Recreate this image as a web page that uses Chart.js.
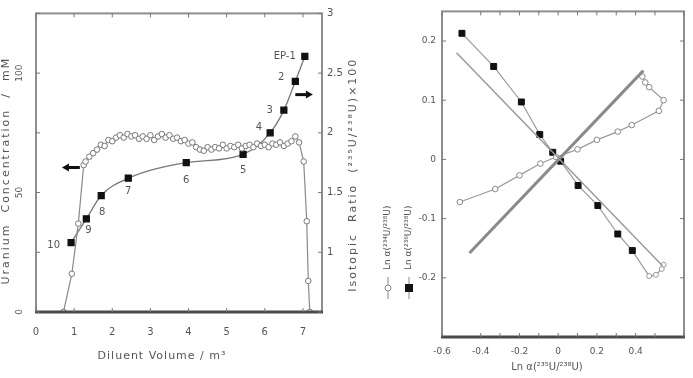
<!DOCTYPE html>
<html>
<head>
<meta charset="utf-8">
<script src="https://cdn.jsdelivr.net/npm/chart.js@4.4.1/dist/chart.umd.min.js"></script>
<style>
  body { margin: 0; background: #fff; }
  #wrap { position: relative; width: 693px; height: 378px; overflow: hidden; }
  #leftBox { position: absolute; left: 0; top: 0; width: 362px; height: 378px; }
  #rightBox { position: absolute; left: 362px; top: 0; width: 331px; height: 378px; }
</style>
</head>
<body>
<div id="wrap">
  <div id="leftBox"><canvas id="elutionChart" width="362" height="378"></canvas></div>
  <div id="rightBox"><canvas id="lnChart" width="331" height="378"></canvas></div>
</div>
<script>
// ---- left panel: uranium concentration and isotopic ratio vs diluent volume ----
const concVolume = [0.72, 0.94, 1.11, 1.25, 1.3, 1.4, 1.5, 1.6, 1.7, 1.8, 1.9, 2.0, 2.1, 2.2,
  2.3, 2.4, 2.5, 2.6, 2.7, 2.8, 2.9, 3.0, 3.1, 3.2, 3.3, 3.4, 3.5, 3.6, 3.7, 3.8, 3.9, 4.0,
  4.1, 4.2, 4.3, 4.4, 4.5, 4.6, 4.7, 4.8, 4.9, 5.0, 5.1, 5.2, 5.3, 5.4, 5.5, 5.6, 5.7, 5.8,
  5.9, 6.0, 6.1, 6.2, 6.3, 6.4, 6.5, 6.6, 6.7, 6.8, 6.9, 7.02, 7.1, 7.14, 7.18];
const concValue = [0, 16, 37, 61.5, 63, 65, 66.5, 68, 70, 69.5, 72, 71.5, 73, 74,
  73, 74.5, 73.5, 74, 72.5, 73.5, 72.5, 74, 72, 73.5, 74.5, 73, 74, 72.5, 73, 71.5, 72, 70.5,
  71, 69, 68, 67.5, 69, 68, 69, 68.5, 70, 68.5, 69.5, 69, 70, 68.5, 69.5, 70, 69, 70.5,
  69.5, 70, 69, 70.5, 70, 71, 69.5, 70.5, 71.5, 73.5, 71, 63, 38, 13, 0];

const ratioVolume = [0.92, 1.32, 1.71, 2.42, 3.94, 5.43, 6.14, 6.5, 6.8, 7.05];
const ratioValue = [1.08, 1.28, 1.475, 1.62, 1.75, 1.82, 2.0, 2.19, 2.43, 2.64];
const sampleLabels = ['10', '9', '8', '7', '6', '5', '4', '3', '2', 'EP-1'];

const volumeTickLabels = [0, 1, 2, 3, 4, 5, 6, 7];
const concTickLabels = [0, 50, 100];
const ratioTickLabels = [1, 1.5, 2, 2.5, 3];

// arrows telling which axis each curve belongs to (in data units)
const concArrow = { from: 1.15, to: 0.68, level: 60.5 };
const ratioArrow = { from: 6.8, to: 7.26, level: 2.32 };

// ---- right panel: Ln plots ----
const lnOpenX = [-0.508, -0.325, -0.2, -0.092, -0.01, 0.1, 0.2, 0.308, 0.38, 0.52, 0.545, 0.47, 0.45, 0.435];
const lnOpenY = [-0.072, -0.05, -0.027, -0.007, 0.004, 0.017, 0.033, 0.047, 0.058, 0.082, 0.1, 0.122, 0.13, 0.14];
const lnFilledX = [-0.497, -0.333, -0.19, -0.095, -0.028, 0.013, 0.103, 0.205, 0.308, 0.383, 0.47, 0.505, 0.535, 0.545];
const lnFilledY = [0.213, 0.157, 0.097, 0.042, 0.012, -0.003, -0.044, -0.078, -0.126, -0.154, -0.197, -0.195, -0.185, -0.178];
const fitNegX = [-0.525, 0.54];
const fitNegY = [0.18, -0.18];
const fitPosX = [-0.458, 0.44];
const fitPosY = [-0.158, 0.15];

const lnXTickLabels = [-0.6, -0.4, -0.2, 0, 0.2, 0.4, 0.6];
const lnYTickLabels = [-0.2, -0.1, 0, 0.1, 0.2];

// where sample numbers sit relative to their square (px)
const labelOffsets = [[-11, 3], [2, 12], [1, 17], [0, 13], [0, 18], [0, 16], [-8, -5], [-11, 0], [-11, -4], [-9, 0]];

const FONT = 'DejaVu Sans';
const TEXT = '#555';

const pts = (xs, ys) => xs.map((x, i) => ({ x: x, y: ys[i] }));
const pick = (list) => (v) => {
    const hit = list.find(t => Math.abs(t - v) < 1e-6);
    return hit === undefined ? '' : String(hit);
};

// box around the plot with ticks pointing inside
const framePlugin = {
    id: 'frame',
    afterDraw(chart, args, opts) {
        const { ctx, chartArea: a } = chart;
        ctx.save();
        ctx.strokeStyle = '#8e8e8e';
        ctx.lineWidth = 2;
        ctx.strokeRect(a.left, a.top, a.right - a.left, a.bottom - a.top);
        ctx.strokeStyle = '#4a4a4a';
        ctx.lineWidth = 3;
        ctx.beginPath();
        ctx.moveTo(a.left - 1, a.bottom);
        ctx.lineTo(a.right + 1, a.bottom);
        ctx.stroke();

        ctx.strokeStyle = '#777';
        ctx.lineWidth = 1;
        Object.values(chart.scales).forEach(s => {
            s.ticks.forEach(t => {
                const p = s.getPixelForValue(t.value);
                ctx.beginPath();
                if (s.isHorizontal()) {
                    ctx.moveTo(p, a.bottom); ctx.lineTo(p, a.bottom - 4);
                    ctx.moveTo(p, a.top); ctx.lineTo(p, a.top + 4);
                } else if (s.position === 'left') {
                    ctx.moveTo(a.left, p); ctx.lineTo(a.left + 4, p);
                    if (opts.mirrorY) { ctx.moveTo(a.right, p); ctx.lineTo(a.right - 4, p); }
                } else {
                    ctx.moveTo(a.right, p); ctx.lineTo(a.right - 4, p);
                }
                ctx.stroke();
            });
        });
        ctx.restore();
    }
};

function rotatedText(ctx, text, x, y, align) {
    ctx.save();
    ctx.translate(x, y);
    ctx.rotate(-Math.PI / 2);
    ctx.textAlign = align;
    ctx.textBaseline = 'middle';
    ctx.fillText(text, 0, 0);
    ctx.restore();
}

function arrow(ctx, x1, x2, y) {
    const dir = Math.sign(x2 - x1);
    ctx.beginPath();
    ctx.moveTo(x1, y);
    ctx.lineTo(x2 - dir * 5, y);
    ctx.stroke();
    ctx.beginPath();
    ctx.moveTo(x2, y);
    ctx.lineTo(x2 - dir * 7, y - 4);
    ctx.lineTo(x2 - dir * 7, y + 4);
    ctx.closePath();
    ctx.fill();
}

const elutionNotes = {
    id: 'elutionNotes',
    afterDraw(chart) {
        const { ctx, chartArea: a, scales } = chart;
        ctx.save();
        ctx.fillStyle = TEXT;
        ctx.font = '10px "' + FONT + '"';
        ctx.textAlign = 'center';
        ctx.textBaseline = 'middle';
        const meta = chart.getDatasetMeta(1);
        meta.data.forEach((el, i) => {
            const off = labelOffsets[i];
            ctx.textAlign = off[0] < 0 ? 'right' : 'center';
            ctx.fillText(sampleLabels[i], el.x + off[0], el.y + off[1]);
        });

        ctx.fillStyle = '#111';
        ctx.strokeStyle = '#111';
        ctx.lineWidth = 3;
        arrow(ctx, scales.x.getPixelForValue(concArrow.from), scales.x.getPixelForValue(concArrow.to),
            scales.y.getPixelForValue(concArrow.level));
        arrow(ctx, scales.x.getPixelForValue(ratioArrow.from), scales.x.getPixelForValue(ratioArrow.to),
            scales.y2.getPixelForValue(ratioArrow.level));

        ctx.fillStyle = TEXT;
        ctx.font = '11px "' + FONT + '"';
        ctx.letterSpacing = '2px';
        const midY = (a.top + a.bottom) / 2;
        rotatedText(ctx, 'Uranium  Concentration  /  mM', 6, midY + 8, 'center');
        rotatedText(ctx, 'Isotopic  Ratio  (\u00b2\u00b3\u2075U/\u00b2\u00b3\u2078U)\u00d7100', 353, midY + 12, 'center');
        ctx.letterSpacing = '1px';
        ctx.textAlign = 'center';
        ctx.fillText('Diluent Volume / m\u00b3', 162, 356);
        ctx.restore();
    }
};

const lnNotes = {
    id: 'lnNotes',
    afterDraw(chart) {
        const { ctx } = chart;
        ctx.save();
        ctx.font = '9px "' + FONT + '"';
        ctx.fillStyle = TEXT;
        const items = [
            { x: 26, text: 'Ln \u03b1(\u00b2\u00b3\u2074U/\u00b2\u00b3\u2078U)', filled: false },
            { x: 47, text: 'Ln \u03b1(\u00b2\u00b3\u2076U/\u00b2\u00b3\u2078U)', filled: true }
        ];
        items.forEach(it => {
            ctx.strokeStyle = '#888';
            ctx.lineWidth = 1;
            ctx.beginPath();
            ctx.moveTo(it.x, 277);
            ctx.lineTo(it.x, 299);
            ctx.stroke();
            if (it.filled) {
                ctx.fillStyle = '#111';
                ctx.fillRect(it.x - 4, 284, 8, 8);
            } else {
                ctx.fillStyle = '#fff';
                ctx.beginPath();
                ctx.arc(it.x, 288, 3, 0, Math.PI * 2);
                ctx.fill();
                ctx.stroke();
            }
            ctx.fillStyle = TEXT;
            rotatedText(ctx, it.text, it.x, 270, 'left');
        });
        ctx.font = '10px "' + FONT + '"';
        ctx.textAlign = 'center';
        ctx.textBaseline = 'middle';
        ctx.fillText('Ln \u03b1(\u00b2\u00b3\u2075U/\u00b2\u00b3\u2078U)', 185, 367);
        ctx.restore();
    }
};

const tickFont = { family: FONT, size: 10 };

new Chart(document.getElementById('elutionChart'), {
    type: 'scatter',
    data: {
        datasets: [{
            label: 'Uranium concentration',
            data: pts(concVolume, concValue),
            yAxisID: 'y',
            showLine: true,
            borderColor: '#8a8a8a',
            borderWidth: 1.2,
            pointStyle: 'circle',
            pointRadius: 2.8,
            pointBackgroundColor: '#fff',
            pointBorderColor: '#777',
            pointBorderWidth: 1
        }, {
            label: 'Isotopic ratio',
            data: pts(ratioVolume, ratioValue),
            yAxisID: 'y2',
            showLine: true,
            cubicInterpolationMode: 'monotone',
            borderColor: '#777',
            borderWidth: 1.3,
            pointStyle: 'rect',
            pointRadius: 4.2,
            pointBackgroundColor: '#111',
            pointBorderColor: '#111'
        }]
    },
    options: {
        responsive: false,
        animation: false,
        layout: { padding: { top: 8 } },
        plugins: { legend: { display: false }, tooltip: { enabled: false }, frame: {} },
        scales: {
            x: {
                type: 'linear', min: 0, max: 7.5,
                ticks: { stepSize: 1, includeBounds: false, padding: 14, color: TEXT, font: tickFont,
                    callback: pick(volumeTickLabels) },
                grid: { display: false, drawTicks: false },
                border: { display: false },
                afterFit: s => { s.height = 66; }
            },
            y: {
                position: 'left', min: 0, max: 125,
                ticks: { stepSize: 25, includeBounds: false, padding: 8, color: TEXT, font: { family: FONT, size: 9 },
                    minRotation: 90, maxRotation: 90, crossAlign: 'center', callback: pick(concTickLabels) },
                grid: { display: false, drawTicks: false },
                border: { display: false },
                afterFit: s => { s.width = 36; }
            },
            y2: {
                position: 'right', min: 0.5, max: 3,
                ticks: { stepSize: 0.5, padding: 5, color: TEXT, font: tickFont, callback: pick(ratioTickLabels) },
                grid: { display: false, drawTicks: false },
                border: { display: false },
                afterFit: s => { s.width = 40; }
            }
        }
    },
    plugins: [framePlugin, elutionNotes]
});

new Chart(document.getElementById('lnChart'), {
    type: 'scatter',
    data: {
        datasets: [{
            data: pts(fitNegX, fitNegY),
            showLine: true,
            borderColor: '#9a9a9a',
            borderWidth: 1.5,
            pointRadius: 0
        }, {
            data: pts(fitPosX, fitPosY),
            showLine: true,
            borderColor: '#8a8a8a',
            borderWidth: 3,
            pointRadius: 0
        }, {
            label: 'open',
            data: pts(lnOpenX, lnOpenY),
            showLine: true,
            borderColor: '#9a9a9a',
            borderWidth: 1.2,
            pointStyle: 'circle',
            pointRadius: 2.8,
            pointBackgroundColor: '#fff',
            pointBorderColor: '#888',
            pointBorderWidth: 1
        }, {
            label: 'filled',
            data: pts(lnFilledX, lnFilledY),
            showLine: true,
            borderColor: '#999',
            borderWidth: 1.2,
            pointStyle: ctx => ctx.dataIndex < 10 ? 'rect' : 'circle',
            pointRadius: ctx => ctx.dataIndex < 10 ? 4.2 : 2.5,
            pointBackgroundColor: ctx => ctx.dataIndex < 10 ? '#111' : '#fff',
            pointBorderColor: ctx => ctx.dataIndex < 10 ? '#111' : '#999',
            pointBorderWidth: 1
        }]
    },
    options: {
        responsive: false,
        animation: false,
        layout: { padding: { top: 7, right: 4 } },
        plugins: { legend: { display: false }, tooltip: { enabled: false }, frame: { mirrorY: true } },
        scales: {
            x: {
                type: 'linear', min: -0.6, max: 0.65,
                ticks: { stepSize: 0.1, includeBounds: true, padding: 9, color: TEXT, font: { family: FONT, size: 9 },
                    autoSkip: false, maxRotation: 0, callback: pick(lnXTickLabels) },
                grid: { display: false, drawTicks: false },
                border: { display: false },
                afterFit: s => { s.height = 41; }
            },
            y: {
                position: 'left', min: -0.3, max: 0.25,
                ticks: { stepSize: 0.1, includeBounds: false, padding: 6, color: TEXT, font: { family: FONT, size: 9 },
                    callback: pick(lnYTickLabels) },
                grid: { display: false, drawTicks: false },
                border: { display: false },
                afterFit: s => { s.width = 80; }
            }
        }
    },
    plugins: [framePlugin, lnNotes]
});
</script>
</body>
</html>
